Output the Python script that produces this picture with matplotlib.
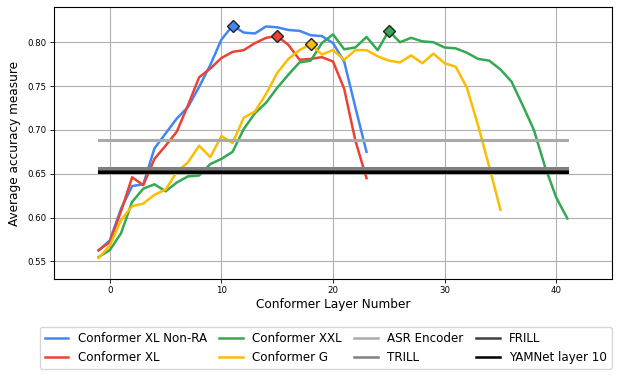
import matplotlib
matplotlib.use('Agg')
import matplotlib.pyplot as plt
import numpy as np

# layer-wise accuracy (layer -1 = input features)
non_ra_xl = [0.5625, 0.574, 0.610, 0.636, 0.638, 0.679, 0.696, 0.713, 0.726, 0.749,
             0.774, 0.803, 0.819, 0.811, 0.810, 0.818, 0.817, 0.814, 0.813, 0.808,
             0.807, 0.799, 0.778, 0.726, 0.675]
conf_xl = [0.563, 0.572, 0.607, 0.646, 0.637, 0.667, 0.682, 0.698, 0.728, 0.760,
           0.770, 0.782, 0.789, 0.791, 0.799, 0.805, 0.807, 0.797, 0.780, 0.781,
           0.783, 0.778, 0.747, 0.688, 0.645]
conf_xxl = [0.555, 0.563, 0.582, 0.618, 0.633, 0.638, 0.630, 0.640, 0.647, 0.648,
            0.661, 0.667, 0.675, 0.701, 0.719, 0.731, 0.748, 0.763, 0.777, 0.779,
            0.799, 0.809, 0.792, 0.794, 0.806, 0.791, 0.813, 0.800, 0.805, 0.801,
            0.800, 0.794, 0.793, 0.788, 0.781, 0.779, 0.769, 0.755, 0.728, 0.700,
            0.658, 0.623, 0.599]
conf_g = [0.554, 0.568, 0.597, 0.613, 0.616, 0.626, 0.632, 0.652, 0.663, 0.682,
          0.669, 0.693, 0.685, 0.714, 0.721, 0.741, 0.765, 0.781, 0.791, 0.798,
          0.786, 0.791, 0.780, 0.791, 0.791, 0.784, 0.779, 0.777, 0.785, 0.776,
          0.787, 0.776, 0.772, 0.748, 0.705, 0.658, 0.609]

# baselines
asr_encoder = 0.689
trill = 0.656
frill = 0.653
yamnet = 0.652

series = [
    ('Conformer XL Non-RA', non_ra_xl, '#4285F4'),
    ('Conformer XL', conf_xl, '#EA4335'),
    ('Conformer XXL', conf_xxl, '#34A853'),
    ('Conformer G', conf_g, '#FBBC04'),
]
baselines = [
    ('ASR Encoder', asr_encoder, '#AAAAAA'),
    ('TRILL', trill, '#808080'),
    ('FRILL', frill, '#404040'),
    ('YAMNet layer 10', yamnet, '#000000'),
]

fig = plt.figure(figsize=(6.21, 3.77), dpi=100)
ax = fig.add_axes([0.087, 0.26, 0.8985, 0.721])

for name, vals, color in series:
    x = np.arange(len(vals)) - 1
    ax.plot(x, vals, color=color, lw=1.8, label=name)

x_min, x_max = -1, len(conf_xxl) - 2
for name, val, color in baselines:
    ax.plot([x_min, x_max], [val, val], color=color, lw=2.2, label=name)

# mark best layer of each model
for name, vals, color in series:
    i = int(np.argmax(vals))
    ax.plot(i - 1, vals[i], marker='D', ms=6, mfc=color, mec='#222222',
            mew=1.0, zorder=5)

ax.set_xlim(-5, 45)
ax.set_ylim(0.53, 0.84)
ax.set_xticks([0, 10, 20, 30, 40])
ax.set_yticks([0.55, 0.60, 0.65, 0.70, 0.75, 0.80])
ax.grid(True, color='#b0b0b0', lw=0.8)
ax.set_axisbelow(True)
ax.set_xlabel('Conformer Layer Number', fontsize=8.7, labelpad=2)
ax.set_ylabel('Average accuracy measure', fontsize=8.7, labelpad=5)
ax.tick_params(labelsize=6.2, length=2.8, width=0.6, pad=2.5)
for s in ax.spines.values():
    s.set_linewidth(0.8)

leg = ax.legend(loc='upper center', bbox_to_anchor=(0.487, -0.155), ncol=4,
                fontsize=8.6, frameon=True, handlelength=2, columnspacing=1.0)
for line in leg.get_lines():
    line.set_linewidth(1.8)

fig.savefig('out.png', dpi=100)
